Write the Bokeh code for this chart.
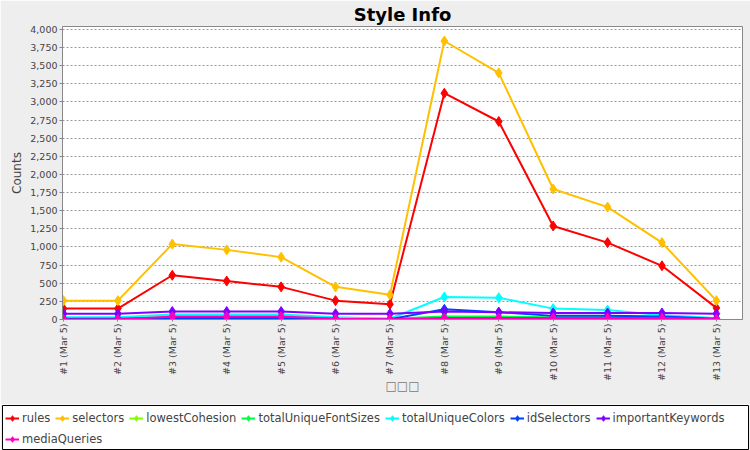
import math
from bokeh.plotting import figure
from bokeh.layouts import column
from bokeh.models import Legend, LegendItem, FixedTicker, NumeralTickFormatter, Range1d
from bokeh.embed import file_html
from bokeh.resources import INLINE

categories = ["#1 (Mar 5)", "#2 (Mar 5)", "#3 (Mar 5)", "#4 (Mar 5)", "#5 (Mar 5)",
              "#6 (Mar 5)", "#7 (Mar 5)", "#8 (Mar 5)", "#9 (Mar 5)", "#10 (Mar 5)",
              "#11 (Mar 5)", "#12 (Mar 5)", "#13 (Mar 5)"]

rules = [150, 150, 610, 530, 450, 260, 210, 3120, 2730, 1290, 1060, 740, 160]
selectors = [260, 260, 1040, 960, 860, 450, 340, 3840, 3400, 1800, 1550, 1060, 260]
lowestCohesion = [10, 10, 20, 20, 20, 10, 5, 30, 30, 20, 20, 20, 5]
totalUniqueFontSizes = [20, 20, 30, 30, 30, 20, 10, 40, 40, 30, 30, 30, 10]
totalUniqueColors = [30, 30, 70, 70, 70, 30, 10, 310, 300, 150, 130, 60, 20]
idSelectors = [10, 10, 20, 20, 20, 10, 5, 140, 100, 50, 50, 40, 10]
importantKeywords = [80, 80, 110, 110, 110, 80, 80, 110, 100, 90, 90, 90, 80]
mediaQueries = [0, 0, 40, 40, 40, 10, 5, 20, 20, 20, 20, 20, 5]

series_names = ["rules", "selectors", "lowestCohesion", "totalUniqueFontSizes",
                "totalUniqueColors", "idSelectors", "importantKeywords", "mediaQueries"]
series_values = [rules, selectors, lowestCohesion, totalUniqueFontSizes,
                 totalUniqueColors, idSelectors, importantKeywords, mediaQueries]
colors = ["#FF0000", "#FFC000", "#80FF00", "#00FF40", "#00FFFF", "#0040FF", "#8000FF", "#FF00C0"]

y_ticks = list(range(0, 4001, 250))

FONT = "DejaVu Sans"
BG = "#EEEEEE"

p = figure(width=750, height=404, output_backend="svg", toolbar_location=None,
           x_range=Range1d(-0.018, 12.48), y_range=Range1d(0, 4040),
           background_fill_color="white", border_fill_color=BG,
           min_border_left=62, min_border_right=8, min_border_top=26, min_border_bottom=85)
p.frame_align = False

p.title.text = "Style Info"
p.title.align = "center"
p.title.text_font = FONT
p.title.text_font_size = "18px"
p.title.text_font_style = "bold"
p.title.text_color = "black"
p.title.standoff = 0
p.title.vertical_align = "top"

p.outline_line_color = "#888888"
p.outline_line_width = 1

xs = list(range(len(categories)))
for name, vals, col in zip(series_names, series_values, colors):
    p.line(xs, vals, line_color=col, line_width=2)
    p.scatter(xs, vals, marker="diamond", size=10, fill_color=col, line_color=col)

p.xgrid.grid_line_color = None
p.ygrid.grid_line_color = "#999999"
p.ygrid.grid_line_dash = "2 2"
p.ygrid.ticker = FixedTicker(ticks=y_ticks)

p.yaxis.ticker = FixedTicker(ticks=y_ticks)
p.yaxis.formatter = NumeralTickFormatter(format="0,0")
p.yaxis.axis_label = "Counts"
p.yaxis.axis_label_text_font = FONT
p.yaxis.axis_label_text_font_size = "12px"
p.yaxis.axis_label_text_font_style = "normal"
p.yaxis.axis_label_standoff = 3
p.yaxis.major_label_text_font = FONT
p.yaxis.major_label_text_font_size = "9.5px"
p.yaxis.major_label_standoff = 2
p.yaxis.minor_tick_line_color = None
p.yaxis.major_tick_in = 0
p.yaxis.major_tick_out = 3
p.yaxis.axis_line_color = "#888888"
p.yaxis.major_tick_line_color = "#888888"

p.xaxis.ticker = FixedTicker(ticks=xs)
p.xaxis.major_label_overrides = {i: c for i, c in enumerate(categories)}
p.xaxis.major_label_orientation = math.pi / 2
p.xaxis.major_label_text_font = FONT
p.xaxis.major_label_text_font_size = "9.5px"
p.xaxis.major_label_standoff = 2
p.xaxis.minor_tick_line_color = None
p.xaxis.major_tick_in = 0
p.xaxis.major_tick_out = 2
p.xaxis.axis_line_color = "#888888"
p.xaxis.major_tick_line_color = "#888888"
p.xaxis.axis_label = "\u25a1\u25a1\u25a1"
p.xaxis.axis_label_text_font = FONT
p.xaxis.axis_label_text_font_size = "12px"
p.xaxis.axis_label_text_font_style = "normal"
p.xaxis.axis_label_text_color = "#777777"
p.xaxis.axis_label_standoff = -5

# Legend strip with a black box, like the reference (series drawn off-range so only legend glyphs show)
lg = figure(width=750, height=46, output_backend="svg", toolbar_location=None,
            x_axis_type=None, y_axis_type=None,
            x_range=Range1d(0, 1), y_range=Range1d(-2, -1),
            background_fill_color="white", border_fill_color=BG,
            min_border_left=2, min_border_right=2, min_border_top=1, min_border_bottom=1)
lg.frame_align = False
lg.outline_line_color = "black"
lg.outline_line_width = 1
lg.xgrid.grid_line_color = None
lg.ygrid.grid_line_color = None

items = []
for name, vals, col in zip(series_names, series_values, colors):
    r1 = lg.line(xs, vals, line_color=col, line_width=2)
    r2 = lg.scatter(xs, vals, marker="diamond", size=10, fill_color=col, line_color=col)
    items.append(LegendItem(label=name, renderers=[r1, r2]))

legend_style = dict(orientation="horizontal", label_text_font=FONT, label_text_font_size="11.5px",
                    glyph_width=14, glyph_height=14, label_standoff=3, spacing=5,
                    padding=2, margin=0, border_line_alpha=0, background_fill_alpha=0)

legend_a = Legend(items=items[:7], location=(1, 22), **legend_style)
legend_b = Legend(items=items[7:], location=(1, 1), **legend_style)
lg.add_layout(legend_a)
lg.add_layout(legend_b)

layout = column(p, lg, spacing=0)
open("out.html", "w").write(file_html(layout, INLINE))
